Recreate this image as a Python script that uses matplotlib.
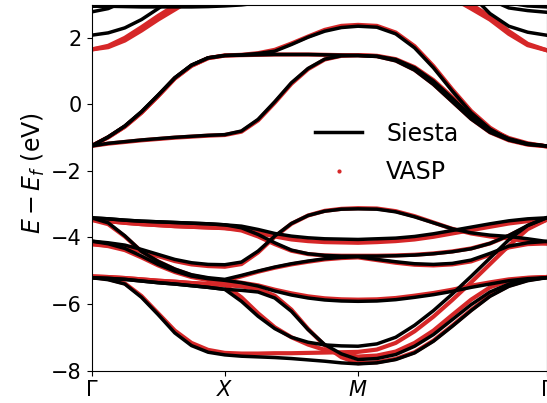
import numpy as np
import matplotlib
matplotlib.use("Agg")
import matplotlib.pyplot as plt
from matplotlib.lines import Line2D

nan = np.nan

# high-symmetry path of the square lattice: Gamma - X - M - Gamma
k_labels = [r'$\Gamma$', r'$X$', r'$M$', r'$\Gamma$']
k_ticks = [0.0, 1.0, 2.0, 2.0 + np.sqrt(2.0)]
k_path = np.concatenate([
    np.linspace(0.0, 1.0, 9),
    np.linspace(1.0, 2.0, 9)[1:],
    np.linspace(2.0, 2.0 + np.sqrt(2.0), 11)[1:],
])

# ---- Siesta bands (eV, relative to E_f) ----
# conduction bands
siesta_c1 = [2.08, 2.15, 2.30, 2.55, 2.88, 3.25, nan, nan, nan,
             nan, nan, nan, nan, nan, nan, nan, nan,
             nan, nan, nan, nan, nan, 3.30, 2.73, 2.35, 2.17, 2.08]
siesta_c2 = [2.78, 2.88, 3.10, nan, nan, nan, nan, nan, nan,
             nan, nan, nan, nan, nan, nan, nan, nan,
             nan, nan, nan, nan, nan, nan, 3.15, 2.90, 2.82, 2.77]
siesta_c3 = [2.95, 2.95, 2.94, 2.93, 2.93, 2.93, 2.93, 2.94, 2.96,
             2.99, 3.05, nan, nan, nan, nan, nan, nan,
             nan, nan, nan, nan, nan, nan, nan, 3.05, 2.96, 2.93]
# bands around the gap
siesta_a = [-1.25, -1.17, -1.12, -1.07, -1.03, -0.99, -0.96, -0.93, -0.91,
            -0.80, -0.45, 0.08, 0.65, 1.08, 1.36, 1.46, 1.47,
            1.44, 1.31, 1.03, 0.60, 0.08, -0.44, -0.84, -1.07, -1.20, -1.25]
siesta_b = [-1.25, -0.98, -0.65, -0.22, 0.28, 0.80, 1.18, 1.40, 1.47,
            1.48, 1.49, 1.50, 1.50, 1.50, 1.49, 1.48, 1.47,
            1.45, 1.35, 1.10, 0.70, 0.18, -0.35, -0.78, -1.03, -1.18, -1.25]
siesta_c = [-1.25, -0.98, -0.65, -0.22, 0.28, 0.80, 1.18, 1.40, 1.47,
            1.49, 1.53, 1.60, 1.80, 2.02, 2.20, 2.31, 2.35,
            2.32, 2.12, 1.70, 1.10, 0.40, -0.25, -0.74, -1.06, -1.20, -1.25]
# valence bands
siesta_v1 = [-3.41, -3.44, -3.48, -3.51, -3.53, -3.55, -3.57, -3.59, -3.62,
             -3.66, -3.76, -3.88, -3.96, -4.01, -4.04, -4.05, -4.06,
             -4.04, -4.02, -3.97, -3.89, -3.79, -3.69, -3.59, -3.50, -3.44, -3.41]
siesta_v2 = [-3.41, -3.56, -3.95, -4.42, -4.72, -4.95, -5.12, -5.21, -5.26,
             -5.14, -5.01, -4.89, -4.79, -4.71, -4.64, -4.60, -4.58,
             -4.66, -4.73, -4.79, -4.81, -4.78, -4.68, -4.48, -4.26, -4.16, -4.12]
siesta_v3 = [-4.11, -4.16, -4.23, -4.36, -4.51, -4.66, -4.76, -4.81, -4.82,
             -4.74, -4.41, -3.96, -3.58, -3.34, -3.21, -3.15, -3.14,
             -3.15, -3.23, -3.38, -3.56, -3.74, -3.86, -3.93, -3.97, -4.04, -4.12]
siesta_v4 = [-4.11, -4.19, -4.33, -4.56, -4.81, -5.01, -5.16, -5.24, -5.29,
             -5.36, -5.46, -5.61, -5.73, -5.82, -5.88, -5.91, -5.92,
             -5.91, -5.87, -5.80, -5.72, -5.62, -5.50, -5.40, -5.30, -5.24, -5.21]
siesta_v5 = [-5.21, -5.23, -5.26, -5.31, -5.36, -5.40, -5.45, -5.50, -5.56,
             -5.92, -6.37, -6.74, -7.00, -7.15, -7.23, -7.26, -7.27,
             -7.20, -7.00, -6.64, -6.20, -5.70, -5.17, -4.62, -4.07, -3.64, -3.41]
siesta_v6 = [-5.21, -5.27, -5.40, -5.80, -6.32, -6.87, -7.25, -7.45, -7.53,
             -7.57, -7.59, -7.61, -7.64, -7.68, -7.72, -7.77, -7.80,
             -7.77, -7.67, -7.47, -7.12, -6.67, -6.20, -5.77, -5.47, -5.30, -5.21]
siesta_v7 = [-3.41, -3.44, -3.48, -3.51, -3.53, -3.55, -3.57, -3.59, -3.62,
             -3.71, -3.91, -4.16, -4.38, -4.49, -4.54, -4.56, -4.56,
             -4.56, -4.55, -4.53, -4.49, -4.43, -4.34, -4.18, -3.94, -3.64, -3.41]
siesta_v8 = [-5.21, -5.23, -5.26, -5.31, -5.36, -5.40, -5.45, -5.50, -5.56,
             -5.59, -5.64, -5.82, -6.22, -6.77, -7.22, -7.50, -7.67,
             -7.64, -7.52, -7.27, -6.92, -6.47, -6.02, -5.64, -5.40, -5.27, -5.21]

# ---- VASP bands (eV, relative to E_f) ----
vasp_c1 = [1.65, 1.72, 1.92, 2.22, 2.55, 2.85, 3.15, nan, nan,
           nan, nan, nan, nan, nan, nan, nan, nan,
           nan, nan, nan, nan, 3.20, 2.88, 2.55, 2.12, 1.78, 1.63]
vasp_c2 = [1.65, 1.76, 2.00, 2.32, 2.66, 2.97, 3.30, nan, nan,
           nan, nan, nan, nan, nan, nan, nan, nan,
           nan, nan, nan, nan, 3.30, 3.00, 2.65, 2.20, 1.82, 1.63]
vasp_a = [-1.25, -1.18, -1.13, -1.08, -1.04, -1.00, -0.97, -0.94, -0.92,
          -0.82, -0.48, 0.05, 0.62, 1.06, 1.35, 1.46, 1.48,
          1.45, 1.32, 1.04, 0.61, 0.09, -0.43, -0.84, -1.08, -1.21, -1.26]
vasp_b = [-1.25, -0.99, -0.67, -0.25, 0.25, 0.78, 1.16, 1.39, 1.47,
          1.48, 1.49, 1.50, 1.50, 1.50, 1.49, 1.48, 1.48,
          1.46, 1.36, 1.12, 0.73, 0.22, -0.31, -0.75, -1.01, -1.17, -1.26]
vasp_c = [-1.25, -0.99, -0.67, -0.25, 0.25, 0.78, 1.16, 1.39, 1.47,
          1.49, 1.54, 1.64, 1.83, 2.04, 2.24, 2.36, 2.39,
          2.36, 2.16, 1.75, 1.15, 0.45, -0.20, -0.70, -1.04, -1.19, -1.26]
vasp_v1 = [-3.47, -3.51, -3.56, -3.60, -3.63, -3.66, -3.68, -3.70, -3.72,
           -3.76, -3.86, -3.97, -4.06, -4.11, -4.14, -4.15, -4.16,
           -4.14, -4.11, -4.06, -3.98, -3.88, -3.78, -3.68, -3.58, -3.51, -3.47]
vasp_v2 = [-3.47, -3.60, -3.97, -4.42, -4.72, -4.96, -5.14, -5.24, -5.30,
           -5.17, -5.03, -4.91, -4.81, -4.73, -4.66, -4.62, -4.60,
           -4.68, -4.76, -4.82, -4.84, -4.81, -4.72, -4.52, -4.30, -4.20, -4.18]
vasp_v3 = [-4.20, -4.24, -4.30, -4.42, -4.56, -4.71, -4.81, -4.86, -4.88,
           -4.80, -4.45, -3.98, -3.59, -3.34, -3.20, -3.14, -3.12,
           -3.13, -3.21, -3.36, -3.55, -3.74, -3.88, -3.97, -4.03, -4.12, -4.18]
vasp_v4 = [-4.20, -4.26, -4.38, -4.60, -4.84, -5.04, -5.19, -5.28, -5.33,
           -5.36, -5.44, -5.57, -5.68, -5.77, -5.83, -5.86, -5.87,
           -5.86, -5.82, -5.75, -5.67, -5.57, -5.45, -5.35, -5.26, -5.21, -5.19]
vasp_v5 = [-5.17, -5.19, -5.22, -5.26, -5.30, -5.33, -5.37, -5.40, -5.43,
           -5.80, -6.28, -6.70, -7.00, -7.22, -7.38, -7.50, -7.58,
           -7.55, -7.43, -7.17, -6.80, -6.33, -5.87, -5.50, -5.30, -5.22, -5.19]
vasp_v6 = [-5.19, -5.25, -5.38, -5.76, -6.28, -6.80, -7.17, -7.38, -7.47,
           -7.49, -7.49, -7.48, -7.48, -7.47, -7.46, -7.45, -7.44,
           -7.37, -7.17, -6.82, -6.38, -5.88, -5.35, -4.80, -4.25, -3.75, -3.47]
vasp_v7 = [-3.47, -3.51, -3.56, -3.60, -3.63, -3.66, -3.68, -3.70, -3.72,
           -3.79, -3.97, -4.20, -4.40, -4.50, -4.54, -4.55, -4.55,
           -4.55, -4.54, -4.52, -4.48, -4.42, -4.33, -4.18, -3.95, -3.67, -3.47]
vasp_v8 = [-5.17, -5.19, -5.22, -5.26, -5.30, -5.33, -5.37, -5.40, -5.43,
           -5.47, -5.55, -5.75, -6.17, -6.75, -7.25, -7.60, -7.78,
           -7.75, -7.65, -7.45, -7.10, -6.65, -6.18, -5.75, -5.45, -5.28, -5.19]

siesta_bands = [siesta_c1, siesta_c2, siesta_c3, siesta_a, siesta_b, siesta_c,
                siesta_v1, siesta_v2, siesta_v3, siesta_v4,
                siesta_v5, siesta_v6, siesta_v7, siesta_v8]
vasp_bands = [vasp_c1, vasp_c2, vasp_a, vasp_b, vasp_c,
              vasp_v1, vasp_v2, vasp_v3, vasp_v4,
              vasp_v5, vasp_v6, vasp_v7, vasp_v8]

vasp_color = '#d62728'

fig = plt.figure(figsize=(5.47, 4.03), dpi=100)
ax = fig.add_axes([0.1673, 0.0806, 0.8318, 0.908])

# VASP underneath, Siesta on top
for band in vasp_bands:
    ax.plot(k_path, band, color=vasp_color, lw=3.0, zorder=1)
for band in siesta_bands:
    ax.plot(k_path, band, color='black', lw=2.5, zorder=2)

ax.set_xlim(k_ticks[0], k_ticks[-1])
ax.set_ylim(-8, 3)
ax.set_xticks(k_ticks)
ax.set_xticklabels(k_labels)
ax.set_yticks([-8, -6, -4, -2, 0, 2])
ax.tick_params(labelsize=15)
ax.set_ylabel(r'$E - E_f$ (eV)', fontsize=17)
ax.yaxis.set_label_coords(-0.098, 0.54)

handles = [
    Line2D([], [], color='black', lw=2.5, label='Siesta'),
    Line2D([], [], color=vasp_color, ls='', marker='.', markersize=4, label='VASP'),
]
ax.legend(handles=handles, loc='upper left', bbox_to_anchor=(0.445, 0.738),
          frameon=False, fontsize=17, handletextpad=1.0, labelspacing=0.6)

fig.savefig('out.png', dpi=100)
